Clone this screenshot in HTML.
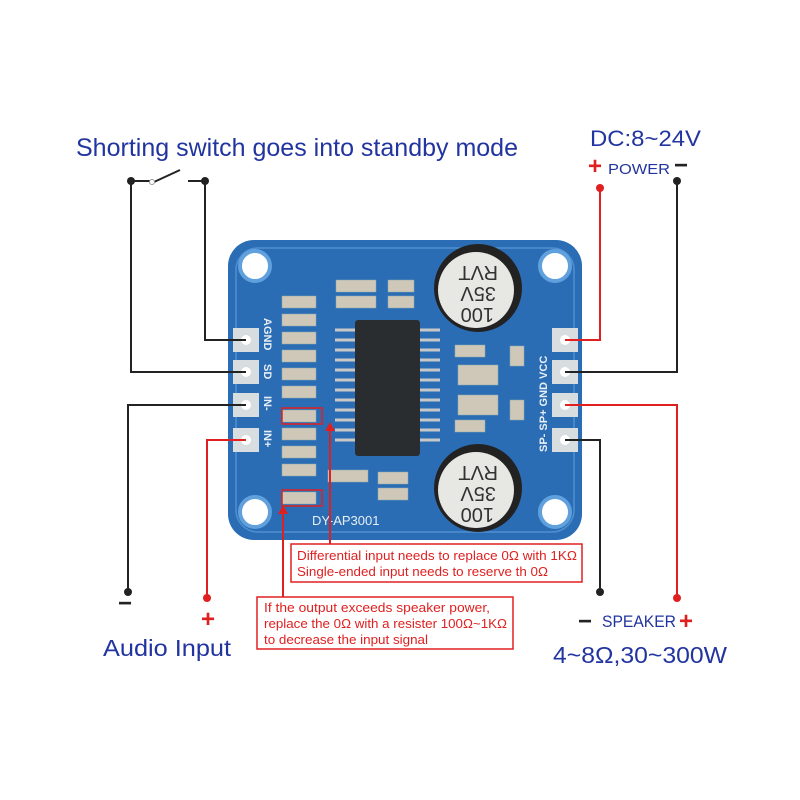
<!DOCTYPE html>
<html><head><meta charset="utf-8"><style>html,body{margin:0;padding:0;background:#fff}svg{display:block}</style></head>
<body>
<svg width="800" height="800" viewBox="0 0 800 800" xmlns="http://www.w3.org/2000/svg" font-family="Liberation Sans, sans-serif">
<rect width="800" height="800" fill="#fff"/>
<!-- board -->
<rect x="228" y="240" width="354" height="300" rx="26" fill="#2b6db4"/>
<rect x="236" y="248" width="338" height="284" rx="22" fill="none" stroke="#4f8fd0" stroke-width="1.5"/>
<g fill="#fff" stroke="#5fa0dd" stroke-width="4">
<circle cx="255" cy="266" r="15"/><circle cx="555" cy="266" r="15"/>
<circle cx="255" cy="512" r="15"/><circle cx="555" cy="512" r="15"/>
</g>
<!-- pads -->
<g fill="#d8dde0">
<rect x="233" y="328" width="26" height="24"/><rect x="233" y="360" width="26" height="24"/>
<rect x="233" y="393" width="26" height="24"/><rect x="233" y="428" width="26" height="24"/>
<rect x="552" y="328" width="26" height="24"/><rect x="552" y="360" width="26" height="24"/>
<rect x="552" y="393" width="26" height="24"/><rect x="552" y="428" width="26" height="24"/>
</g>
<g fill="#fff"><circle cx="246" cy="340" r="5"/><circle cx="246" cy="372" r="5"/><circle cx="246" cy="405" r="5"/><circle cx="246" cy="440" r="5"/>
<circle cx="565" cy="340" r="5"/><circle cx="565" cy="372" r="5"/><circle cx="565" cy="405" r="5"/><circle cx="565" cy="440" r="5"/></g>
<g fill="#e8eef5" font-size="11" font-weight="bold">
<text transform="translate(264,318) rotate(90)">AGND</text>
<text transform="translate(264,364) rotate(90)">SD</text>
<text transform="translate(264,396) rotate(90)">IN-</text>
<text transform="translate(264,430) rotate(90)">IN+</text>
<text transform="translate(547,452) rotate(-90)">SP- SP+ GND VCC</text>
<text x="312" y="525" font-size="13" font-weight="normal">DY-AP3001</text>
</g>
<!-- resistor column -->
<g fill="#cfc7b8" stroke="#8aa" stroke-width="0.5">
<rect x="282" y="296" width="34" height="12"/><rect x="282" y="314" width="34" height="12"/>
<rect x="282" y="332" width="34" height="12"/><rect x="282" y="350" width="34" height="12"/>
<rect x="282" y="368" width="34" height="12"/><rect x="282" y="386" width="34" height="12"/>
<rect x="282" y="410" width="34" height="12"/><rect x="282" y="428" width="34" height="12"/>
<rect x="282" y="446" width="34" height="12"/><rect x="282" y="464" width="34" height="12"/>
<rect x="282" y="492" width="34" height="12"/>
<rect x="336" y="280" width="40" height="12"/><rect x="336" y="296" width="40" height="12"/>
<rect x="388" y="280" width="26" height="12"/><rect x="388" y="296" width="26" height="12"/>
<rect x="328" y="470" width="40" height="12"/><rect x="378" y="472" width="30" height="12"/><rect x="378" y="488" width="30" height="12"/>
<rect x="455" y="345" width="30" height="12"/><rect x="458" y="365" width="40" height="20"/><rect x="458" y="395" width="40" height="20"/><rect x="455" y="420" width="30" height="12"/>
<rect x="510" y="346" width="14" height="20"/><rect x="510" y="400" width="14" height="20"/>
</g>
<rect x="282" y="408" width="40" height="16" fill="none" stroke="#e02020" stroke-width="1.5"/>
<rect x="282" y="490" width="40" height="16" fill="none" stroke="#e02020" stroke-width="1.5"/>
<!-- chip -->
<g stroke="#c8c8c8" stroke-width="3">
<path d="M335 330h20M335 340h20M335 350h20M335 360h20M335 370h20M335 380h20M335 390h20M335 400h20M335 410h20M335 420h20M335 430h20M335 440h20"/>
<path d="M420 330h20M420 340h20M420 350h20M420 360h20M420 370h20M420 380h20M420 390h20M420 400h20M420 410h20M420 420h20M420 430h20M420 440h20"/>
</g>
<rect x="355" y="320" width="65" height="136" rx="3" fill="#2a2d30"/>
<!-- capacitors -->
<g><circle cx="478" cy="288" r="44" fill="#222"/><circle cx="476" cy="290" r="38" fill="#e7e7e3"/>
<circle cx="478" cy="488" r="44" fill="#222"/><circle cx="476" cy="490" r="38" fill="#e7e7e3"/></g>
<g fill="#333" font-size="20">
<text transform="translate(498,266) rotate(180)">RVT</text>
<text transform="translate(496,287) rotate(180)">35V</text>
<text transform="translate(494,308) rotate(180)">100</text>
<text transform="translate(498,466) rotate(180)">RVT</text>
<text transform="translate(496,487) rotate(180)">35V</text>
<text transform="translate(494,508) rotate(180)">100</text>
</g>
<!-- wires -->
<g fill="none" stroke-width="2">
<path d="M131 181V372H246" stroke="#222"/>
<path d="M205 181V340H246" stroke="#222"/>
<path d="M246 405H128V592" stroke="#222"/>
<path d="M246 440H207V598" stroke="#e02020"/>
<path d="M565 340H600V188" stroke="#e02020"/>
<path d="M565 372H677V181" stroke="#222"/>
<path d="M565 405H677V598" stroke="#e02020"/>
<path d="M565 440H600V592" stroke="#222"/>
<path d="M131 181H150M154 182L180 170M188 181H205" stroke="#222"/>
<path d="M330 544V428M283 597V508" stroke="#e02020"/>
</g>
<circle cx="152" cy="182" r="2.5" fill="#fff" stroke="#999"/>
<path d="M330 422l-5 9h10z" fill="#e02020"/><path d="M283 505l-5 9h10z" fill="#e02020"/>
<g fill="#222"><circle cx="131" cy="181" r="4"/><circle cx="205" cy="181" r="4"/><circle cx="677" cy="181" r="4"/><circle cx="128" cy="592" r="4"/><circle cx="600" cy="592" r="4"/></g>
<g fill="#e02020"><circle cx="600" cy="188" r="4"/><circle cx="207" cy="598" r="4"/><circle cx="677" cy="598" r="4"/></g>
<!-- boxes -->
<rect x="291" y="544" width="291" height="38" fill="#fff" stroke="#e02020" stroke-width="1.5"/>
<g fill="#e02020" font-size="13">
<text x="297" y="560" textLength="280" lengthAdjust="spacingAndGlyphs">Differential input needs to replace 0Ω with 1KΩ</text>
<text x="297" y="576" textLength="251" lengthAdjust="spacingAndGlyphs">Single-ended input needs to reserve th 0Ω</text>
</g>
<rect x="257" y="597" width="256" height="52" fill="#fff" stroke="#e02020" stroke-width="1.5"/>
<g fill="#e02020" font-size="13">
<text x="264" y="612" textLength="226" lengthAdjust="spacingAndGlyphs">If the output exceeds speaker power,</text>
<text x="264" y="628" textLength="243" lengthAdjust="spacingAndGlyphs">replace the 0Ω with a resister 100Ω~1KΩ</text>
<text x="264" y="644" textLength="164" lengthAdjust="spacingAndGlyphs">to decrease the input signal</text>
</g>
<!-- labels -->
<g fill="#2234a0">
<text x="76" y="156" font-size="25" textLength="442" lengthAdjust="spacingAndGlyphs">Shorting switch goes into standby mode</text>
<text x="590" y="146" font-size="22" textLength="111" lengthAdjust="spacingAndGlyphs">DC:8~24V</text>
<text x="608" y="174" font-size="15" textLength="62" lengthAdjust="spacingAndGlyphs">POWER</text>
<text x="103" y="656" font-size="23" textLength="128" lengthAdjust="spacingAndGlyphs">Audio Input</text>
<text x="602" y="627" font-size="17" textLength="74" lengthAdjust="spacingAndGlyphs">SPEAKER</text>
<text x="553" y="663" font-size="23" textLength="174" lengthAdjust="spacingAndGlyphs">4~8Ω,30~300W</text>
</g>
<g font-size="24" font-weight="bold">
<text x="588" y="174" fill="#e02020">+</text>
<text x="674" y="173" fill="#222">−</text>
<text x="118" y="611" fill="#222">−</text>
<text x="201" y="627" fill="#e02020">+</text>
<text x="578" y="629" fill="#222">−</text>
<text x="679" y="629" fill="#e02020">+</text>
</g>
</svg>
</body></html>
